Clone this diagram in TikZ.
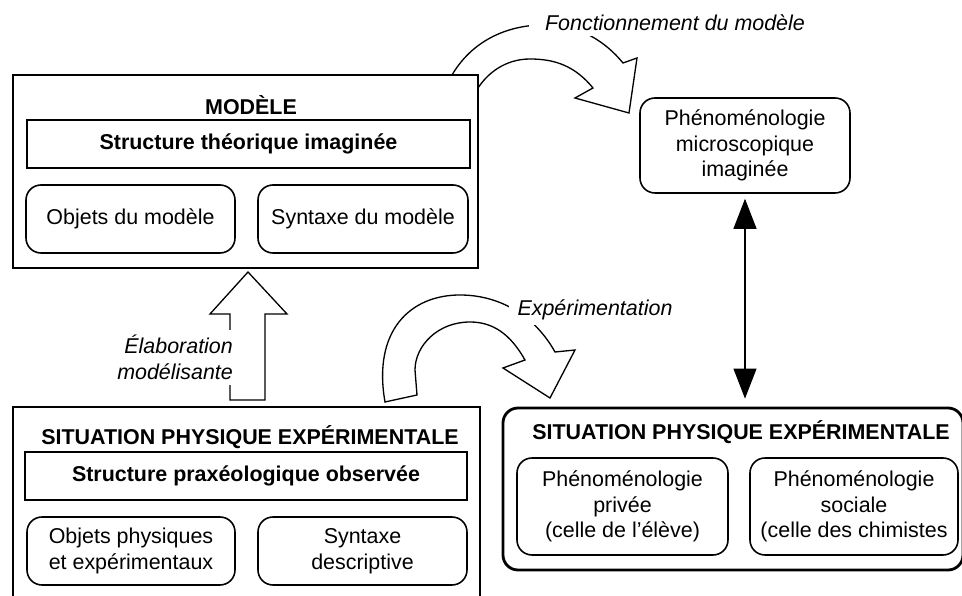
\documentclass[tikz,border=0pt]{standalone}
\usepackage{fontspec}
\setmainfont{Liberation Sans}
\usepackage{tikz}
\usetikzlibrary{arrows.meta,backgrounds}
\newcommand{\outerwidth}{1.6pt}
\newcommand{\innerwidth}{0.9pt}
\newcommand{\corner}{0.3cm}
\newcommand{\txtsize}{\fontsize{12.2}{14.6}\selectfont}
\tikzset{
  every node/.style={font=\txtsize, align=center, inner sep=0pt},
  bigbox/.style={draw, line width=\outerwidth},
  titlebox/.style={draw, line width=\innerwidth},
  roundbox/.style={draw, line width=\innerwidth, rounded corners=\corner},
  hollow/.style={draw, line width=0.75pt, line join=miter},
  flowlabel/.style={fill=white, inner xsep=5pt, inner ysep=3pt, font=\txtsize\itshape}
}

\begin{document}
\begin{tikzpicture}
\useasboundingbox (0,0) rectangle (19.24,11.92);
%modele
\node[bigbox, minimum width=9.30cm, minimum height=3.86cm] (modele) at (4.91, 8.49) {};
\node (modeletitle) at (5.02, 9.82) {\bfseries MODÈLE};
\node[titlebox, minimum width=8.86cm, minimum height=0.96cm] (theorique) at (4.97, 9.04) {\bfseries Structure théorique imaginée};
\node[roundbox, minimum width=4.18cm, minimum height=1.36cm] (objmod) at (2.61, 7.54) {Objets du modèle};
\node[roundbox, minimum width=4.20cm, minimum height=1.36cm] (synmod) at (7.26, 7.54) {Syntaxe du modèle};
%microscopique
\node[roundbox, minimum width=4.2cm, minimum height=1.9cm] (micro) at (14.9, 9.01) {Phénoménologie\\microscopique\\imaginée};
%situation (gauche)
\node[bigbox, minimum width=9.34cm, minimum height=4.38cm] (spe) at (4.93, 1.59) {};
\node (spetitle) at (5.0, 3.18) {\bfseries SITUATION PHYSIQUE EXPÉRIMENTALE};
\node[titlebox, minimum width=8.84cm, minimum height=0.96cm] (praxeo) at (4.92, 2.40) {\bfseries Structure praxéologique observée};
\node[roundbox, minimum width=4.16cm, minimum height=1.36cm] (objphys) at (2.62, 0.90) {Objets physiques\\et expérimentaux};
\node[roundbox, minimum width=4.18cm, minimum height=1.36cm] (syndesc) at (7.25, 0.90) {Syntaxe\\descriptive};
%situation (droite)
\node[bigbox, rounded corners=\corner, minimum width=9.2cm, minimum height=3.24cm] (spedeux) at (14.66, 2.14) {};
\node (spedeuxtitle) at (14.82, 3.28) {\bfseries SITUATION PHYSIQUE EXPÉRIMENTALE};
\node[roundbox, minimum width=4.22cm, minimum height=1.94cm] (privee) at (12.45, 1.79) {Phénoménologie\\privée\\(celle de l'élève)};
\node[roundbox, minimum width=4.16cm, minimum height=1.94cm] (sociale) at (17.08, 1.79) {Phénoménologie\\sociale\\(celle des chimistes};
%fleches
\draw[hollow] (4.96,6.48) -- (5.74,5.64) -- (5.30,5.64) -- (5.30,3.92) -- (4.60,3.92) -- (4.60,5.64) -- (4.20,5.64) -- cycle;
\draw[hollow] (7.70,3.88) .. controls (7.45,5.3) and (8.2,6.02) .. (9.20,6.02) .. controls (10.0,6.02) and (10.7,5.6) .. (11.10,4.88) -- (11.50,4.92) -- (11.00,3.96) -- (10.06,4.56) -- (10.50,4.72) .. controls (10.2,5.25) and (9.85,5.48) .. (9.40,5.48) .. controls (8.75,5.48) and (8.30,5.0) .. (8.30,4.52) -- (8.34,4.02) -- cycle;
\draw[hollow] (9.04,10.42) .. controls (9.5,11.2) and (10.3,11.45) .. (11.0,11.42) .. controls (11.6,11.4) and (12.1,11.1) .. (12.46,10.66) -- (12.74,10.76) -- (12.58,9.66) -- (11.50,9.96) -- (11.86,10.16) .. controls (11.5,10.6) and (11.1,10.74) .. (10.60,10.74) .. controls (10.1,10.74) and (9.75,10.45) .. (9.56,10.16) -- (9.56,10.42) -- cycle;
\draw[{Triangle[length=0.6cm,width=0.46cm]}-{Triangle[length=0.6cm,width=0.46cm]}, line width=0.6pt, shorten <=0.1cm, shorten >=0.16cm] (micro.south) -- (micro.south |- spedeux.north);
%labels
\node[flowlabel, anchor=east, align=right] (elab) at (4.84,4.77) {Élaboration\\modélisante};
\node[flowlabel] (exper) at (11.90,5.72) {Expérimentation};
\node[flowlabel, inner xsep=9pt] (fonct) at (13.5,11.46) {Fonctionnement du modèle};
\end{tikzpicture}
\end{document}
